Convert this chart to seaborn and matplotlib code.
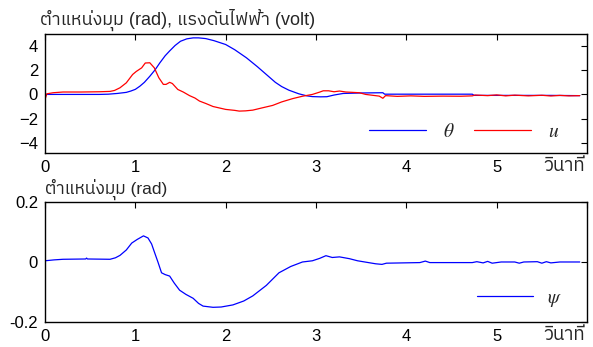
import matplotlib
matplotlib.use("Agg")
import matplotlib.pyplot as plt
import seaborn as sns
import pandas as pd
from matplotlib import font_manager
from matplotlib.ft2font import FT2Font

# --- data ---
t_theta = [0.0, 0.3, 0.6, 0.7, 0.8, 0.9, 0.95, 1.0, 1.05, 1.1, 1.16, 1.22, 1.27, 1.33,
           1.38, 1.44, 1.5, 1.57, 1.64, 1.7, 1.78, 1.87, 2.0, 2.1, 2.23, 2.35, 2.45,
           2.55, 2.62, 2.7, 2.81, 2.9, 2.96, 3.05, 3.12, 3.2, 3.3, 3.5, 3.74, 3.76,
           4.2, 4.73, 4.75, 5.2, 5.6, 5.92]
theta = [0.0, 0.0, 0.0, 0.02, 0.08, 0.17, 0.28, 0.42, 0.68, 1.0, 1.5, 2.05, 2.6, 3.2,
         3.6, 4.05, 4.4, 4.6, 4.68, 4.68, 4.62, 4.45, 4.13, 3.7, 3.03, 2.3, 1.65,
         1.0, 0.65, 0.35, 0.05, -0.12, -0.18, -0.2, -0.19, -0.05, 0.08, 0.12, 0.14, 0.02,
         0.02, 0.02, -0.08, -0.08, -0.08, -0.1]

t_u = [0.0, 0.005, 0.02, 0.09, 0.2, 0.4, 0.6, 0.72, 0.77, 0.83, 0.9, 0.97, 1.01, 1.07,
       1.11, 1.16, 1.21, 1.26, 1.31, 1.34, 1.38, 1.41, 1.47, 1.53, 1.6, 1.66, 1.71,
       1.78, 1.86, 2.0, 2.1, 2.15, 2.22, 2.3, 2.4, 2.52, 2.62, 2.74, 2.85, 2.96, 3.04,
       3.08, 3.14, 3.2, 3.26, 3.33, 3.48, 3.55, 3.7, 3.74, 3.77, 3.9, 4.05, 4.2, 4.4,
       4.6, 4.73, 4.76, 4.9, 5.0, 5.1, 5.2, 5.35, 5.5, 5.6, 5.7, 5.8, 5.92]
u = [0.1, -0.3, 0.05, 0.14, 0.2, 0.2, 0.22, 0.25, 0.33, 0.55, 0.96, 1.65, 1.9, 2.2,
     2.6, 2.62, 2.2, 1.38, 0.83, 0.83, 1.0, 0.9, 0.41, 0.2, -0.1, -0.3, -0.55,
     -0.75, -1.0, -1.24, -1.32, -1.38, -1.36, -1.3, -1.12, -0.91, -0.62, -0.35, -0.15, 0.0, 0.19,
     0.3, 0.3, 0.22, 0.28, 0.2, 0.14, 0.0, -0.14, -0.32, -0.1, -0.16, -0.12, -0.16, -0.14,
     -0.15, -0.12, -0.05, -0.1, -0.04, -0.12, -0.06, -0.12, -0.07, -0.13, -0.08, -0.12, -0.1]

t_psi = [0.0, 0.1, 0.2, 0.45, 0.46, 0.47, 0.72, 0.78, 0.83, 0.9, 0.96, 1.02, 1.09, 1.14,
         1.18, 1.21, 1.25, 1.29, 1.33, 1.38, 1.43, 1.49, 1.56, 1.64, 1.7, 1.75, 1.86,
         1.95, 2.08, 2.2, 2.3, 2.45, 2.59, 2.72, 2.85, 2.96, 3.04, 3.11, 3.18, 3.26,
         3.37, 3.46, 3.6, 3.66, 3.73, 3.78, 4.15, 4.21, 4.26, 4.73, 4.78, 4.85, 4.9,
         4.95, 5.05, 5.2, 5.25, 5.3, 5.45, 5.5, 5.55, 5.6, 5.7, 5.92]
psi = [0.004, 0.007, 0.009, 0.01, 0.013, 0.01, 0.009, 0.014, 0.022, 0.04, 0.063, 0.075, 0.087, 0.08,
       0.06, 0.034, 0.0, -0.036, -0.042, -0.047, -0.07, -0.094, -0.108, -0.121, -0.138, -0.147, -0.151,
       -0.15, -0.143, -0.13, -0.113, -0.078, -0.036, -0.015, 0.0, 0.004, 0.012, 0.021, 0.015, 0.017,
       0.011, 0.004, -0.003, -0.006, -0.008, -0.004, -0.002, 0.003, -0.002, -0.002, 0.001, -0.003, 0.002,
       -0.004, 0.0, 0.0, -0.004, 0.0, 0.001, -0.004, 0.001, -0.003, 0.0, 0.0]

x_ticks = [0, 1, 2, 3, 4, 5, 6]
x_ticklabels = ['0', '1', '2', '3', '4', '5', '']
top_yticks = [-4, -2, 0, 2, 4]
bot_yticks = [-0.2, 0, 0.2]
bot_yticklabels = ['-0.2', '0', '0.2']


def find_thai_font():
    cands = []
    for f in font_manager.fontManager.ttflist:
        try:
            if 0x0E15 in FT2Font(f.fname).get_charmap():
                cands.append(f)
        except Exception:
            pass
    if not cands:
        return 'DejaVu Sans'
    cands.sort(key=lambda f: (f.weight not in (400, 'normal'), f.style != 'normal',
                              'Thai' not in f.name))
    return cands[0].name


sns.set_style('white')
thai = find_thai_font()
plt.rcParams['font.family'] = ['Liberation Sans', thai, 'DejaVu Sans']
plt.rcParams['mathtext.fontset'] = 'stix'

fig = plt.figure(figsize=(5.93, 3.47), dpi=100)
ax1 = fig.add_axes([0.0759, 0.559, 0.914, 0.343])
ax2 = fig.add_axes([0.0759, 0.072, 0.914, 0.346])

df_top = pd.DataFrame({'t': t_theta, 'v': theta})
df_u = pd.DataFrame({'t': t_u, 'v': u})
df_psi = pd.DataFrame({'t': t_psi, 'v': psi})

sns.lineplot(data=df_top, x='t', y='v', ax=ax1, color='#0000ff', lw=0.9,
             sort=False, estimator=None, label=r'$\theta$')
sns.lineplot(data=df_u, x='t', y='v', ax=ax1, color='#ff0000', lw=0.9,
             sort=False, estimator=None, label=r'$u$')
sns.lineplot(data=df_psi, x='t', y='v', ax=ax2, color='#0000ff', lw=0.9,
             sort=False, estimator=None, label=r'$\psi$')

for ax in (ax1, ax2):
    ax.set_xlim(0, 6)
    ax.set_xticks(x_ticks)
    ax.set_xticklabels(x_ticklabels)
    ax.set_xlabel('')
    ax.set_ylabel('')
    ax.tick_params(direction='in', length=4, width=0.8, top=True, right=True,
                   labelsize=12, pad=5, colors='black')
    for s in ax.spines.values():
        s.set_color('black')
        s.set_linewidth(1.0)
    ax.text(0.997, -0.04, 'วินาที', transform=ax.transAxes, ha='right', va='top',
            fontsize=13.5)

ax1.set_ylim(-4.85, 5.0)
ax1.set_yticks(top_yticks)
ax2.set_ylim(-0.2, 0.2)
ax2.set_yticks(bot_yticks)
ax2.set_yticklabels(bot_yticklabels)

ax1.legend(loc='center', bbox_to_anchor=(0.774, 0.176), ncol=2, frameon=False,
           fontsize=14, handlelength=2.9, handletextpad=0.9, columnspacing=1.0)
ax2.legend(loc='center', bbox_to_anchor=(0.875, 0.19), frameon=False,
           fontsize=14, handlelength=2.9, handletextpad=0.7)

fig.text(40 / 593, 1 - 25 / 347, 'ตำแหน่งมุม (rad), แรงดันไฟฟ้า (volt)',
         ha='left', va='baseline', fontsize=13)
fig.text(45 / 593, 1 - 194 / 347, 'ตำแหน่งมุม (rad)',
         ha='left', va='baseline', fontsize=12.5)

fig.savefig('out.png', dpi=100, facecolor='white')
